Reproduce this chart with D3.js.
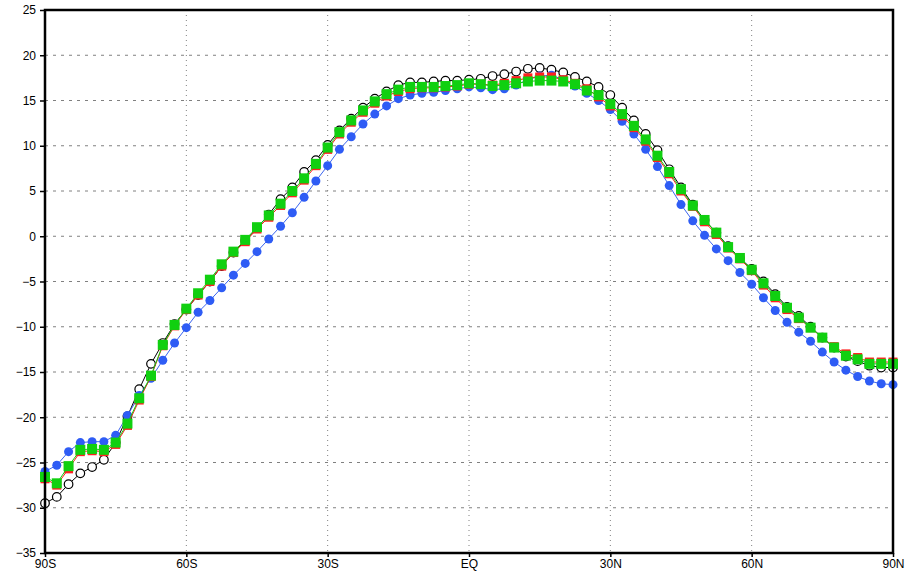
<!DOCTYPE html>
<html>
<head>
<meta charset="utf-8">
<script src="https://cdn.jsdelivr.net/npm/d3@7"></script>
<style>
html,body{margin:0;padding:0;background:#fff;}
svg{display:block;}
text{font-family:"Liberation Sans",Arial,sans-serif;}
</style>
</head>
<body>
<svg id="chart" width="910" height="578"></svg>
<script>
// Latitudes every 2.5 degrees from 90S to 90N
const lats = d3.range(0, 73).map(i => -90 + i * 2.5);

const xTickValues = [-90, -60, -30, 0, 30, 60, 90];
const xTickLabels = ["90S", "60S", "30S", "EQ", "30N", "60N", "90N"];
const yTickValues = [-35, -30, -25, -20, -15, -10, -5, 0, 5, 10, 15, 20, 25];

const blackSeries = [
 -29.5,-28.8,-27.4,-26.2,-25.5,-24.7,-22.8,-19.9,-16.9,-14.1,-11.8,-9.7,-8.1,
 -6.5,-5.0,-3.3,-1.8,-0.5,0.9,2.4,4.1,5.4,7.1,8.4,10.1,
 11.7,13.0,14.2,15.2,16.0,16.7,17.0,17.0,17.1,17.2,17.2,17.3,
 17.4,17.7,17.9,18.2,18.5,18.6,18.4,18.1,17.6,17.1,16.5,15.6,
 14.2,12.8,11.3,9.5,7.4,5.4,3.5,1.8,0.4,-1.1,-2.4,-3.6,
 -5.0,-6.4,-7.8,-8.8,-10.0,-11.2,-12.3,-13.3,-13.8,-14.3,-14.5,-14.5
];
const blueSeries = [
 -26.0,-25.3,-23.8,-22.8,-22.7,-22.7,-22.0,-19.8,-17.6,-15.7,-13.7,-11.8,-10.1,
 -8.4,-7.1,-5.7,-4.3,-3.0,-1.7,-0.3,1.1,2.6,4.3,6.1,7.8,
 9.6,11.0,12.4,13.5,14.4,15.2,15.6,15.8,15.9,16.1,16.3,16.5,
 16.4,16.2,16.3,16.7,17.3,17.7,17.8,17.3,16.6,15.8,15.0,14.0,
 12.7,11.3,9.6,7.7,5.6,3.5,1.7,0.1,-1.4,-2.7,-4.0,-5.3,
 -6.8,-8.2,-9.5,-10.6,-11.6,-12.8,-13.9,-14.8,-15.5,-16.0,-16.3,-16.4
];
const redSeries = [
 -26.8,-27.5,-25.7,-23.8,-23.7,-23.8,-23.0,-20.9,-18.1,-15.5,-12.1,-9.9,-8.1,
 -6.5,-5.0,-3.3,-1.8,-0.6,0.8,2.1,3.4,4.8,6.2,7.8,9.6,
 11.3,12.6,13.7,14.7,15.5,16.0,16.3,16.4,16.4,16.5,16.6,16.8,
 16.8,16.7,16.9,17.2,17.5,17.6,17.6,17.3,16.9,16.3,15.4,14.4,
 13.3,12.0,10.5,8.7,6.9,5.0,3.3,1.6,0.2,-1.3,-2.5,-3.8,
 -5.4,-6.8,-8.1,-9.1,-10.1,-11.2,-12.2,-13.0,-13.4,-13.9,-13.9,-13.9
];
const greenSeries = [
 -26.6,-27.3,-25.4,-23.6,-23.5,-23.6,-22.8,-20.7,-17.9,-15.4,-12.0,-9.8,-8.0,
 -6.3,-4.8,-3.1,-1.7,-0.4,1.0,2.3,3.6,5.0,6.4,8.0,9.8,
 11.5,12.8,13.9,14.9,15.7,16.2,16.5,16.5,16.5,16.6,16.7,16.9,
 16.8,16.6,16.7,16.9,17.1,17.2,17.2,17.1,16.8,16.1,15.6,14.6,
 13.5,12.2,10.7,8.9,7.1,5.2,3.4,1.8,0.4,-1.2,-2.4,-3.7,
 -5.2,-6.6,-7.9,-9.0,-10.1,-11.2,-12.3,-13.2,-13.6,-14.1,-14.1,-14.1
];

const svg = d3.select("#chart");
const pLeft = 45, pRight = 893, pTop = 10, pBottom = 553;

const x = d3.scaleLinear().domain([-90, 90]).range([pLeft, pRight]);
const y = d3.scaleLinear().domain([-35, 25]).range([pBottom, pTop]);

// Grid
const grid = svg.append("g");
grid.selectAll("line.hg").data(yTickValues.filter(v => v > -35 && v < 25)).enter()
  .append("line")
  .attr("x1", pLeft).attr("x2", pRight)
  .attr("y1", d => y(d)).attr("y2", d => y(d))
  .attr("stroke", "#808080").attr("stroke-width", 1)
  .attr("stroke-dasharray", "3,5");
grid.selectAll("line.vg").data(xTickValues.filter(v => v > -90 && v < 90)).enter()
  .append("line")
  .attr("y1", pTop).attr("y2", pBottom)
  .attr("x1", d => x(d)).attr("x2", d => x(d))
  .attr("stroke", "#808080").attr("stroke-width", 1)
  .attr("stroke-dasharray", "1,4");

// Axes
const yAxis = d3.axisLeft(y).tickValues(yTickValues).tickSize(5).tickPadding(4)
  .tickFormat(d => (d < 0 ? "\u2212" + Math.abs(d) : String(d)));
const gy = svg.append("g").attr("transform", `translate(${pLeft},0)`).call(yAxis);
gy.select(".domain").remove();
gy.selectAll(".tick line").attr("stroke", "#000").attr("stroke-width", 1.5);
gy.selectAll(".tick text").attr("font-size", 12).attr("fill", "#000");

const xAxis = d3.axisBottom(x).tickValues(xTickValues).tickSize(4).tickPadding(2)
  .tickFormat((d, i) => xTickLabels[i]);
const gx = svg.append("g").attr("transform", `translate(0,${pBottom})`).call(xAxis);
gx.select(".domain").remove();
gx.selectAll(".tick line").attr("stroke", "#000").attr("stroke-width", 1.5);
gx.selectAll(".tick text").attr("font-size", 12).attr("fill", "#000");

// Series
const line = d3.line().x((d, i) => x(lats[i])).y(d => y(d));
const plot = svg.append("g");

function drawLine(data, color) {
  plot.append("path").datum(data).attr("d", line)
    .attr("fill", "none").attr("stroke", color).attr("stroke-width", 1);
}

// black open circles
drawLine(blackSeries, "#000");
plot.selectAll("circle.blk").data(blackSeries).enter().append("circle")
  .attr("cx", (d, i) => x(lats[i])).attr("cy", d => y(d)).attr("r", 4.3)
  .attr("fill", "#fff").attr("stroke", "#000").attr("stroke-width", 1.2);

// blue filled circles
drawLine(blueSeries, "#3a64f0");
plot.selectAll("circle.blu").data(blueSeries).enter().append("circle")
  .attr("cx", (d, i) => x(lats[i])).attr("cy", d => y(d)).attr("r", 4.5)
  .attr("fill", "#2e5cf5");

// red squares (mostly hidden beneath green)
drawLine(redSeries, "#ff1a1a");
const sqR = 9, sq = 10;
plot.selectAll("rect.red").data(redSeries).enter().append("rect")
  .attr("x", (d, i) => x(lats[i]) - sqR / 2).attr("y", d => y(d) - sqR / 2)
  .attr("width", sqR).attr("height", sqR)
  .attr("fill", "#ff2020");

// green squares
drawLine(greenSeries, "#10d010");
plot.selectAll("rect.grn").data(greenSeries).enter().append("rect")
  .attr("x", (d, i) => x(lats[i]) - sq / 2).attr("y", d => y(d) - sq / 2)
  .attr("width", sq).attr("height", sq)
  .attr("fill", "#10d010");

// Frame
svg.append("rect").attr("x", pLeft).attr("y", pTop)
  .attr("width", pRight - pLeft).attr("height", pBottom - pTop)
  .attr("fill", "none").attr("stroke", "#000").attr("stroke-width", 2.5);
</script>
</body>
</html>
